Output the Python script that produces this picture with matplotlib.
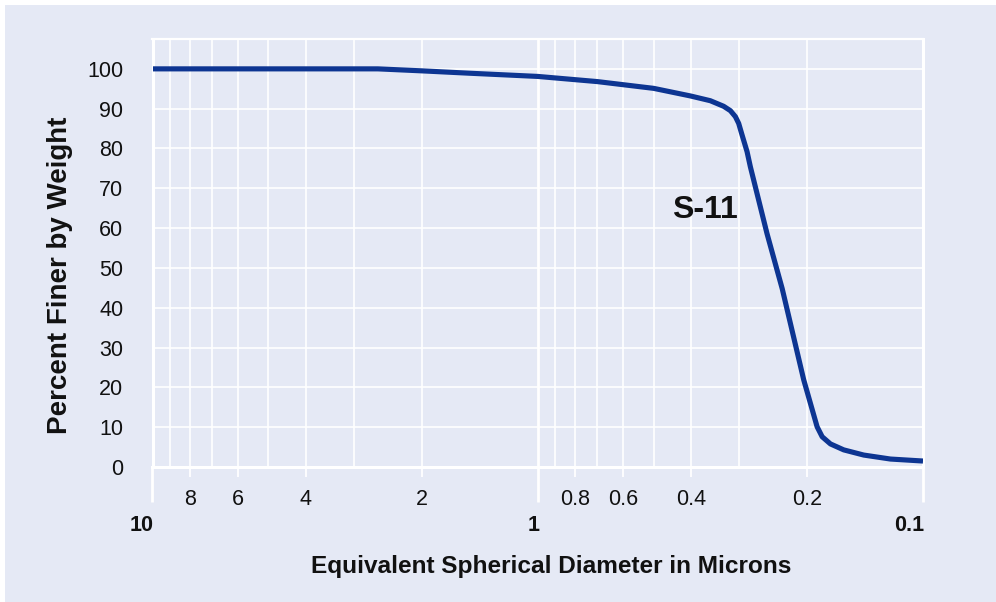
import matplotlib
matplotlib.use("Agg")
import matplotlib.pyplot as plt
from matplotlib.patches import Rectangle
from matplotlib.ticker import FixedLocator, NullFormatter

# ---- data ----
diameter = [10, 2.6, 2.0, 1.5, 1.0, 0.7, 0.5, 0.4017, 0.3565, 0.3292, 0.3162,
            0.3069, 0.3009, 0.2949, 0.2862, 0.2806, 0.254, 0.232, 0.204, 0.196,
            0.1883, 0.1827, 0.1739, 0.1606, 0.1425, 0.1215, 0.1]
percent = [100, 100, 99.5, 98.9, 98.1, 96.8, 95.1, 93.2, 92.0, 90.6, 89.5,
           88.0, 86.3, 83.4, 79.2, 75.4, 58.6, 44.8, 21.9, 16.0,
           10.1, 7.6, 5.8, 4.3, 3.0, 2.0, 1.5]
series_label = "S-11"

y_ticks = [0, 10, 20, 30, 40, 50, 60, 70, 80, 90, 100]
major_ticks = [10, 1, 0.1]
major_labels = ["10", "1", "0.1"]
minor_ticks = [9, 8, 7, 6, 5, 4, 3, 2, 0.9, 0.8, 0.7, 0.6, 0.5, 0.4, 0.3, 0.2]
minor_labels = ["", "8", "", "6", "", "4", "", "2", "", "0.8", "", "0.6", "", "0.4", "", "0.2"]

x_title = "Equivalent Spherical Diameter in Microns"
y_title = "Percent Finer by Weight"

# ---- style ----
BG = "#e5e9f5"
LINE = "#0d3592"
W, H = 996, 602
plt.rcParams["font.family"] = ["Liberation Sans", "DejaVu Sans"]

fig = plt.figure(figsize=(W / 100, H / 100), dpi=100, facecolor=BG)
# white strips on top and left edge
fig.patches.append(Rectangle((0, 1 - 5 / H), 1, 5 / H, transform=fig.transFigure,
                             facecolor="white", edgecolor="none", zorder=-10))
fig.patches.append(Rectangle((0, 0), 5 / W, 1, transform=fig.transFigure,
                             facecolor="white", edgecolor="none", zorder=-10))

left, right, top, bottom = 152.5, 923, 39, 467
ax = fig.add_axes([left / W, 1 - bottom / H, (right - left) / W, (bottom - top) / H])
ax.set_facecolor(BG)

ax.plot(diameter, percent, color=LINE, lw=3.7, solid_joinstyle="round",
        solid_capstyle="butt", zorder=5)

ax.set_xscale("log")
ax.set_xlim(10, 0.1)
ax.set_ylim(0, 107.5)

# grid / ticks
ax.set_axisbelow(True)
ax.yaxis.set_major_locator(FixedLocator(y_ticks))
ax.set_yticklabels([str(v) for v in y_ticks])
ax.tick_params(axis="y", length=0, pad=21, labelsize=15.5, labelcolor="#111111")
ax.grid(axis="y", color="white", lw=1.2)

ax.xaxis.set_major_locator(FixedLocator(major_ticks))
ax.xaxis.set_major_formatter(NullFormatter())
ax.xaxis.set_minor_locator(FixedLocator(minor_ticks))
ax.set_xticklabels(minor_labels, minor=True)
ax.tick_params(axis="x", which="major", length=25, width=2, color="white")
ax.tick_params(axis="x", which="minor", length=7.5, width=1.3, color="white",
               pad=8, labelsize=15.5, labelcolor="#111111")
ax.grid(axis="x", which="minor", color="white", lw=1.2)
ax.grid(axis="x", which="major", color="white", lw=2.0)
for t, lab in zip(ax.xaxis.get_minor_ticks(), minor_labels):
    if lab == "":
        t.tick1line.set_markersize(0)

for v, lab in zip(major_ticks, major_labels):
    ax.annotate(lab, xy=(v, 0), xycoords=("data", "axes fraction"),
                xytext=(1, -42), textcoords="offset points",
                ha="right", va="center", fontsize=15.5, fontweight="bold",
                color="#111111", annotation_clip=False)

for side, lw in (("left", 2.2), ("bottom", 2.2), ("top", 1.6), ("right", 2.2)):
    ax.spines[side].set_color("white")
    ax.spines[side].set_linewidth(lw)

# series label
ax.text(0.369, 64.5, series_label, ha="center", va="center", fontsize=23,
        fontweight="bold", color="#111111",
        family=["Liberation Sans Narrow", "Liberation Sans", "DejaVu Sans"])

fig.text(551 / W, 1 - 566 / H, x_title, ha="center", va="center",
         fontsize=17.6, fontweight="bold", color="#111111")
fig.text(60 / W, 1 - 275 / H, y_title, ha="center", va="center", rotation=90,
         fontsize=20, fontweight="bold", color="#111111")

fig.savefig("out.png", dpi=100, facecolor=BG)
